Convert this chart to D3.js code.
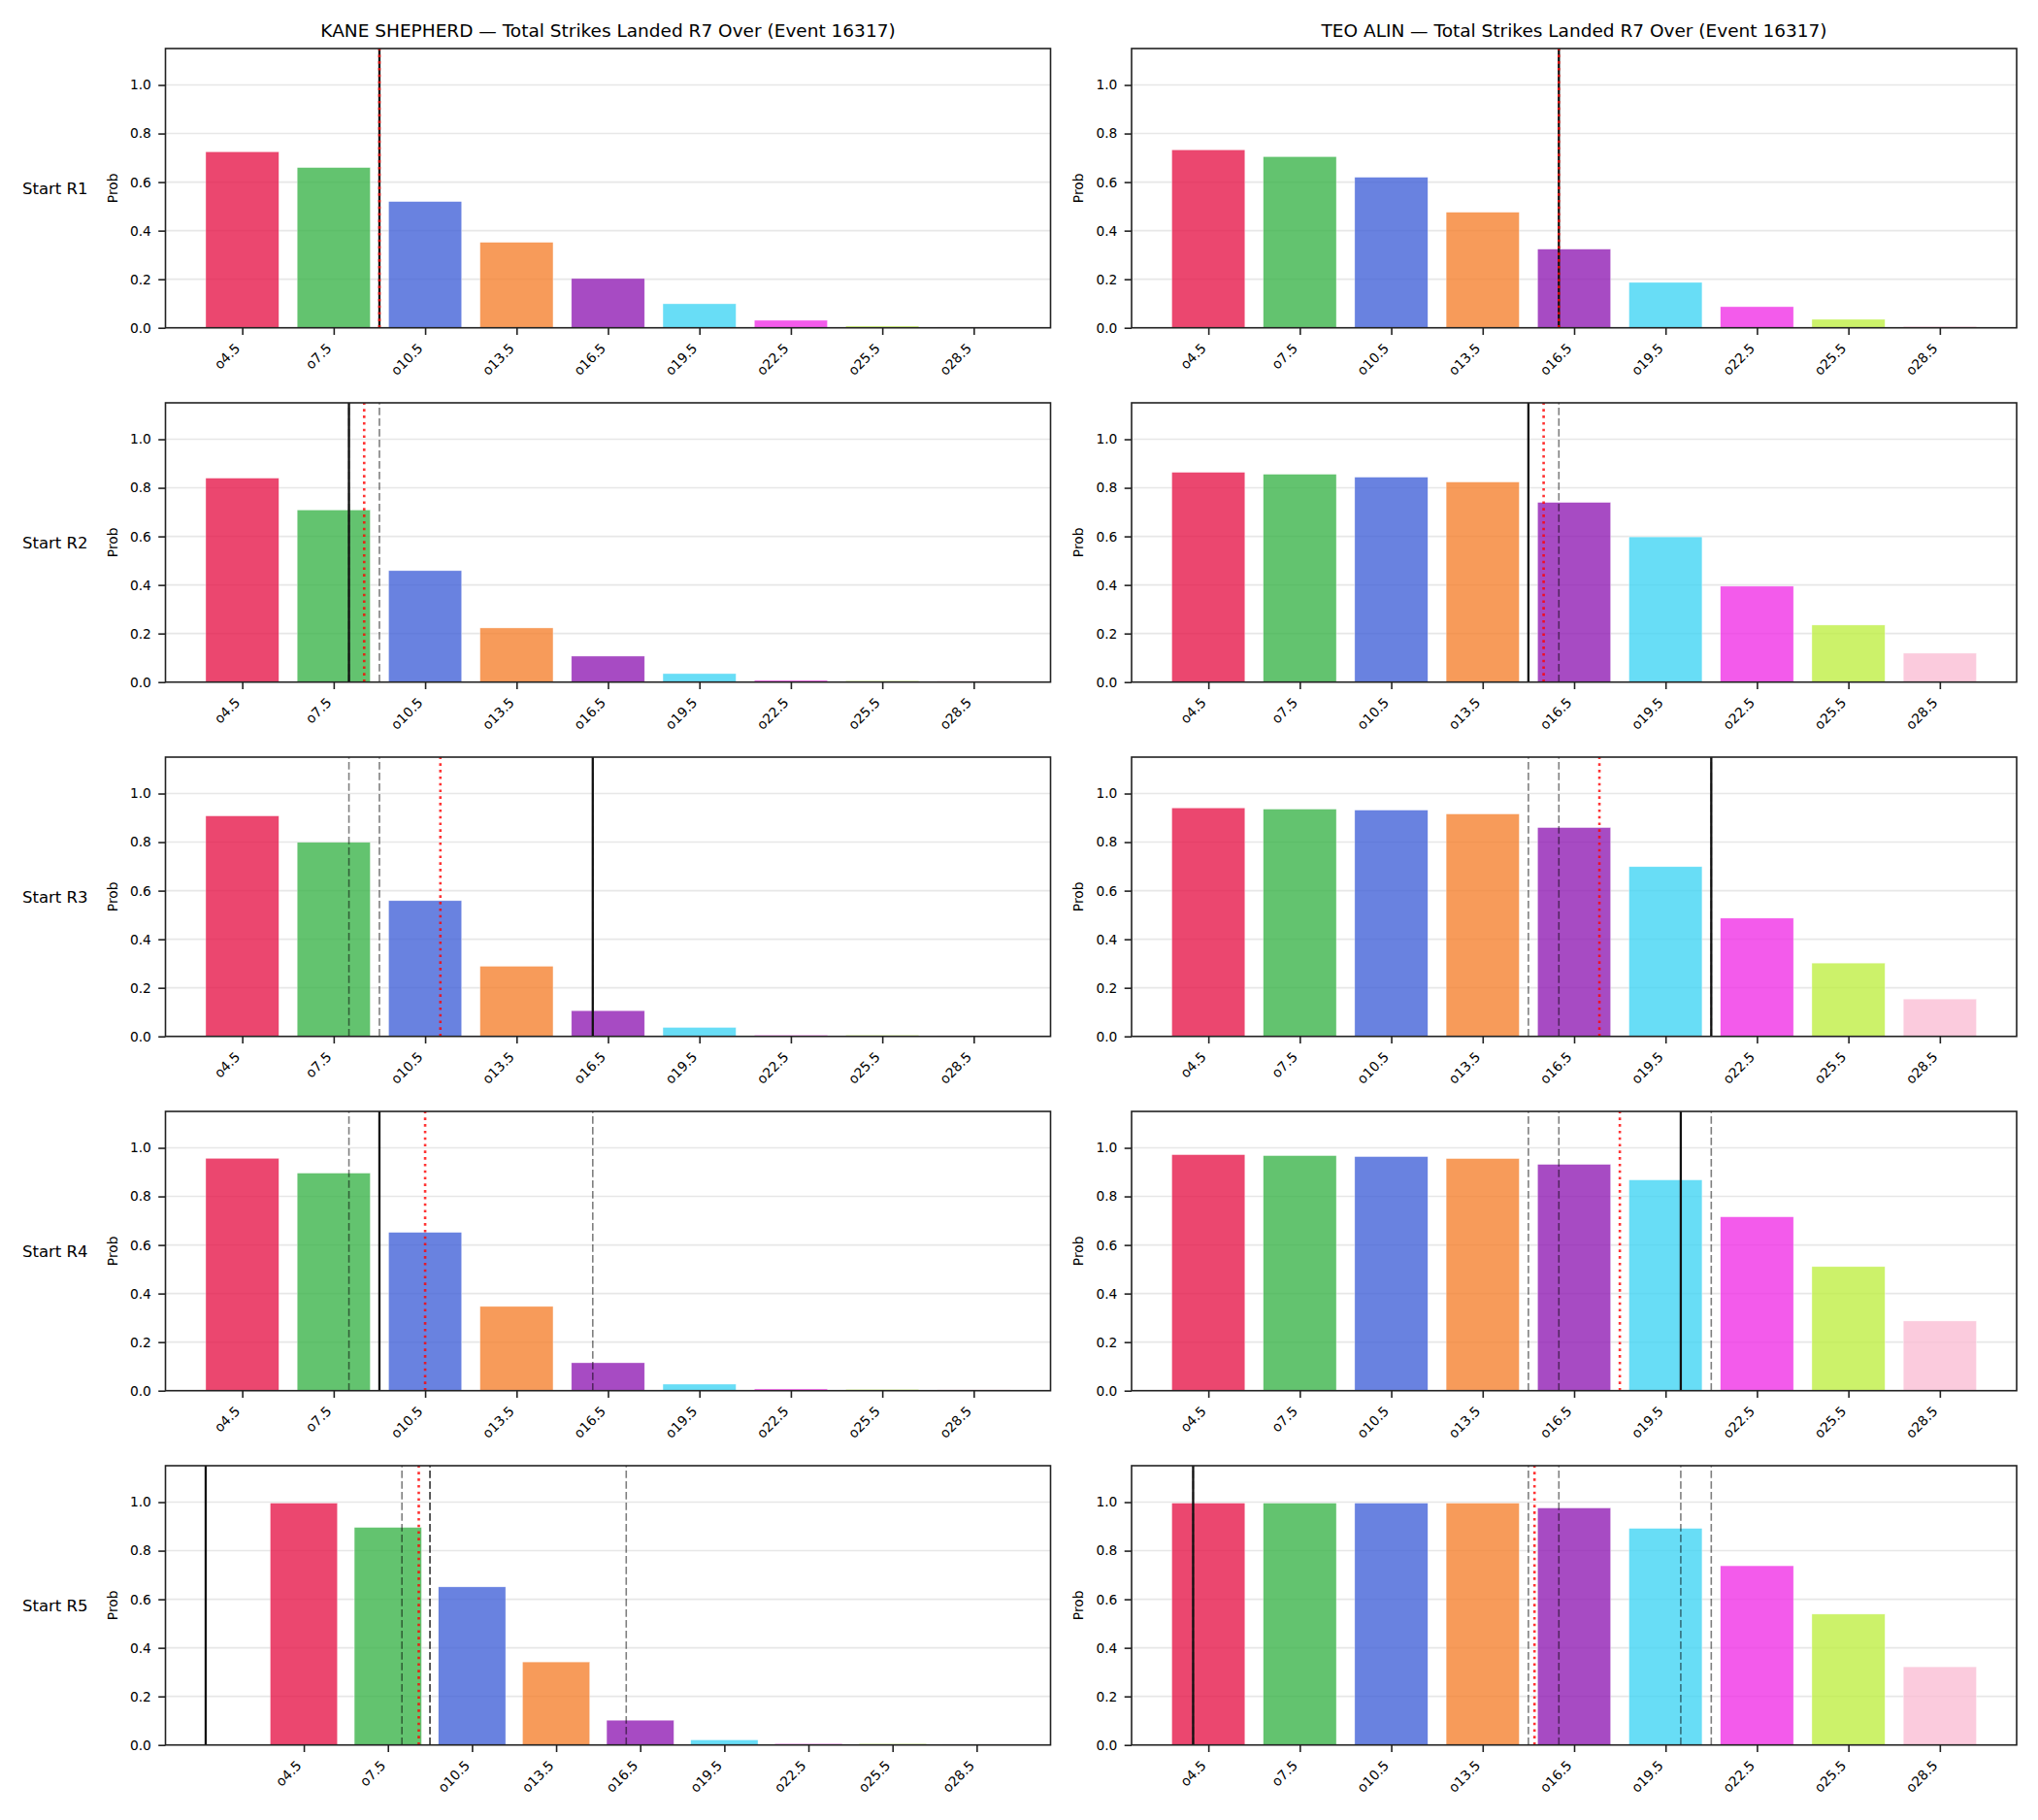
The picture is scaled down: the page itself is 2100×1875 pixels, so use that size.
<!DOCTYPE html>
<html>
<head>
<meta charset="utf-8">
<script src="https://cdn.jsdelivr.net/npm/d3@7"></script>
<style>
  html, body { margin: 0; padding: 0; background: #fff; }
  svg { display: block; font-family: "DejaVu Sans", sans-serif; }
</style>
</head>
<body>
<svg id="chart" width="2100" height="1875"></svg>
<script>
// ---------------- DATA ----------------
const fighters = ["KANE SHEPHERD", "TEO ALIN"];
const titleSuffix = " \u2014 Total Strikes Landed R7 Over (Event 16317)";
const rowLabels = ["Start R1", "Start R2", "Start R3", "Start R4", "Start R5"];
const thresholdLabels = ["o4.5", "o7.5", "o10.5", "o13.5", "o16.5", "o19.5", "o22.5", "o25.5", "o28.5"];
const thresholdValues = [4.5, 7.5, 10.5, 13.5, 16.5, 19.5, 22.5, 25.5, 28.5];
const yTicks = [0.0, 0.2, 0.4, 0.6, 0.8, 1.0];
const barColors = ["#e6194B", "#3cb44b", "#4363d8", "#f58231", "#911eb4", "#42d4f4", "#f032e6", "#bfef45", "#fabed4"];

// probabilities of going over each threshold, per starting round
const kaneProbs = [
  [0.725, 0.660, 0.520, 0.352, 0.203, 0.099, 0.031, 0.007, 0.003],
  [0.840, 0.709, 0.459, 0.223, 0.107, 0.035, 0.007, 0.005, 0.004],
  [0.908, 0.799, 0.559, 0.289, 0.106, 0.037, 0.005, 0.005, 0.003],
  [0.957, 0.896, 0.652, 0.347, 0.115, 0.027, 0.007, 0.005, 0.004],
  [0.996, 0.896, 0.651, 0.342, 0.102, 0.021, 0.005, 0.005, 0.003]
];
const teoProbs = [
  [0.733, 0.705, 0.620, 0.476, 0.324, 0.187, 0.087, 0.035, 0.006],
  [0.864, 0.856, 0.844, 0.824, 0.740, 0.598, 0.395, 0.235, 0.119],
  [0.941, 0.936, 0.932, 0.916, 0.860, 0.699, 0.487, 0.302, 0.154],
  [0.972, 0.968, 0.964, 0.956, 0.932, 0.868, 0.716, 0.511, 0.287],
  [0.996, 0.996, 0.996, 0.996, 0.976, 0.892, 0.738, 0.539, 0.322]
];
// solid black reference line per row
const kaneSolid = [9, 8, 16, 9, 1];
const teoSolid = [16, 15, 21, 20, 4];
// red dotted line per row
const kaneDotted = [9, 8.5, 11, 10.5, 8.6];
const teoDotted = [16, 15.5, 17.33, 18, 15.2];
// grey dashed lines per row
const kaneDashed = [[9], [9, 8], [9, 8, 16], [9, 8, 16, 9], [9, 8, 16, 9, 1]];
const teoDashed = [[16], [16, 15], [16, 15, 21], [16, 15, 21, 20], [16, 15, 21, 20, 4]];

// ---------------- LAYOUT ----------------
const colX = [170.5, 1166];
const panelW = 912;
const rowY = [50, 415, 780, 1145, 1510];
const panelH = 287.7;
const tickLen = 7.3, tickPad = 7.3;
const tickFont = 13.8;

const svg = d3.select("#chart");

const columns = [
  { name: fighters[0], probs: kaneProbs, solid: kaneSolid, dotted: kaneDotted, dashed: kaneDashed },
  { name: fighters[1], probs: teoProbs, solid: teoSolid, dotted: teoDotted, dashed: teoDashed }
];

// maps a line value (strike count) to bar index position
const valueToIndex = d3.scaleLinear().domain([thresholdValues[0], thresholdValues[1]]).range([0, 1]);

columns.forEach((col, c) => {
  // column title
  svg.append("text")
    .attr("x", colX[c] + panelW / 2)
    .attr("y", 38)
    .attr("text-anchor", "middle")
    .attr("font-size", 18.5)
    .attr("fill", "#000")
    .text(col.name + titleSuffix);

  rowLabels.forEach((rl, r) => {
    const g = svg.append("g").attr("transform", `translate(${colX[c]},${rowY[r]})`);
    const probs = col.probs[r];
    const lineVals = [col.solid[r], col.dotted[r]].concat(col.dashed[r]);
    const lineIdx = lineVals.map(v => valueToIndex(v));
    const dmin = Math.min(-0.4, d3.min(lineIdx));
    const dmax = Math.max(probs.length - 1 + 0.4, d3.max(lineIdx));
    const pad = (dmax - dmin) * 0.05;
    const x = d3.scaleLinear().domain([dmin - pad, dmax + pad]).range([0, panelW]);
    const y = d3.scaleLinear().domain([0, 1.15]).range([panelH, 0]);

    // grid
    g.append("g").selectAll("line").data(yTicks).join("line")
      .attr("x1", 0).attr("x2", panelW)
      .attr("y1", d => y(d)).attr("y2", d => y(d))
      .attr("stroke", "#b0b0b0").attr("stroke-opacity", 0.3).attr("stroke-width", 1.6);

    // bars
    g.append("g").selectAll("rect").data(probs).join("rect")
      .attr("x", (d, i) => x(i - 0.4))
      .attr("width", (d, i) => x(i + 0.4) - x(i - 0.4))
      .attr("y", d => y(d))
      .attr("height", d => y(0) - y(d))
      .attr("fill", (d, i) => barColors[i])
      .attr("fill-opacity", 0.8)
      .attr("stroke", "#fff").attr("stroke-opacity", 0.8).attr("stroke-width", 0.5);

    // dashed lines
    g.append("g").selectAll("line").data(col.dashed[r]).join("line")
      .attr("x1", d => x(valueToIndex(d))).attr("x2", d => x(valueToIndex(d)))
      .attr("y1", panelH).attr("y2", 0)
      .attr("stroke", "#000").attr("stroke-opacity", 0.5)
      .attr("stroke-width", 1.6).attr("stroke-dasharray", "7.7,3.3");

    // solid line
    g.append("line")
      .attr("x1", x(valueToIndex(col.solid[r]))).attr("x2", x(valueToIndex(col.solid[r])))
      .attr("y1", panelH).attr("y2", 0)
      .attr("stroke", "#111").attr("stroke-width", 2.3);

    // dotted line
    g.append("line")
      .attr("x1", x(valueToIndex(col.dotted[r]))).attr("x2", x(valueToIndex(col.dotted[r])))
      .attr("y1", panelH).attr("y2", 0)
      .attr("stroke", "red").attr("stroke-opacity", 0.8)
      .attr("stroke-width", 2.6).attr("stroke-dasharray", "2.6,4.2");

    // y axis
    const ya = g.append("g").call(d3.axisLeft(y).tickValues(yTicks).tickFormat(d3.format(".1f"))
      .tickSize(tickLen).tickPadding(tickPad));
    ya.select(".domain").remove();
    ya.selectAll(".tick line").attr("stroke", "#222").attr("stroke-width", 1.6);
    ya.selectAll(".tick text").attr("font-size", tickFont).attr("font-family", "DejaVu Sans").attr("fill", "#000");

    // x axis
    const xa = g.append("g").attr("transform", `translate(0,${panelH})`)
      .call(d3.axisBottom(x).tickValues(d3.range(thresholdLabels.length)).tickFormat(i => thresholdLabels[i])
        .tickSize(tickLen));
    xa.select(".domain").remove();
    xa.selectAll(".tick line").attr("stroke", "#222").attr("stroke-width", 1.6);
    xa.selectAll(".tick text")
      .attr("font-size", tickFont).attr("font-family", "DejaVu Sans").attr("fill", "#000")
      .attr("x", 0).attr("y", 0).attr("dy", 0)
      .attr("text-anchor", "end")
      .attr("transform", "translate(-2,22) rotate(-45)");

    // frame
    g.append("rect").attr("x", 0).attr("y", 0).attr("width", panelW).attr("height", panelH)
      .attr("fill", "none").attr("stroke", "#222").attr("stroke-width", 1.6);

    // y label
    g.append("text")
      .attr("transform", `translate(-50,${panelH / 2}) rotate(-90)`)
      .attr("text-anchor", "middle")
      .attr("font-size", 13.8)
      .attr("fill", "#000")
      .text("Prob");

    // row label
    if (c === 0) {
      svg.append("text")
        .attr("x", 23)
        .attr("y", rowY[r] + panelH / 2 + 6)
        .attr("font-size", 16.5)
        .attr("fill", "#000")
        .text(rl);
    }
  });
});
</script>
</body>
</html>
